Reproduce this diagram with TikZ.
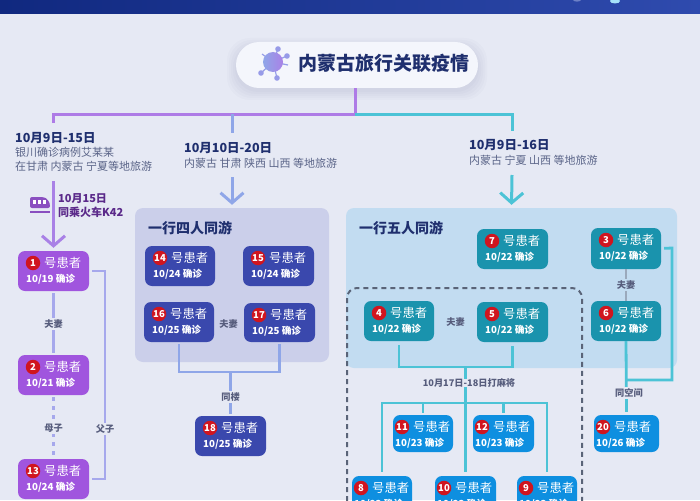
\documentclass[tikz,border=0pt]{standalone}
\usepackage{fontspec}
\setmainfont{Noto Sans CJK SC}
\usetikzlibrary{arrows.meta,calc}
\definecolor{pagebg}{HTML}{E6E9F4}
\definecolor{hdrL}{HTML}{10287F}
\definecolor{hdrR}{HTML}{2F4BAE}
\definecolor{pillc}{HTML}{F4F6FC}
\definecolor{navy}{HTML}{1F2F6E}
\definecolor{subc}{HTML}{5A6488}
\definecolor{relc}{HTML}{565C7C}
\definecolor{linep}{HTML}{AE7BE6}
\definecolor{lineb}{HTML}{8FA6E8}
\definecolor{linec}{HTML}{4CC3D6}
\definecolor{linev}{HTML}{A6A8EC}
\definecolor{lineg}{HTML}{9AA9BC}
\definecolor{gfour}{HTML}{CBCFEA}
\definecolor{gfive}{HTML}{C2DCF1}
\definecolor{npurple}{HTML}{A055DE}
\definecolor{ndark}{HTML}{3A48AD}
\definecolor{nteal}{HTML}{1A93AD}
\definecolor{nblue}{HTML}{0E8FE0}
\definecolor{badgec}{HTML}{D0151F}
\definecolor{trainc}{HTML}{8A4FC0}
\definecolor{trainText}{HTML}{5B2A8A}
\definecolor{dashc}{HTML}{5A6478}
\tikzset{
  x=1pt,y=-1pt,
  box/.style={rounded corners=7pt,inner sep=0pt,draw=none},
  txt/.style={inner sep=0pt,anchor=west,text=white},
  headtxt/.style={inner sep=0pt,anchor=west,text=navy,font=\fontsize{12.5}{14}\selectfont\bfseries},
  subtxt/.style={inner sep=0pt,anchor=west,text=subc,font=\fontsize{11}{13}\selectfont},
  grouptxt/.style={inner sep=0pt,anchor=west,text=navy,font=\fontsize{14}{16}\selectfont\bfseries},
  traintxt/.style={inner sep=0pt,anchor=west,text=trainText,font=\fontsize{11}{13}\selectfont\bfseries},
  rel/.style={inner sep=1.5pt,text=relc,font=\fontsize{9.2}{11}\selectfont\bfseries,fill=#1},
  rel/.default=pagebg,
  conn/.style={line width=2.8pt,color=#1},
  main/.style={line width=3pt,color=#1},
  arr/.style={line width=3pt,color=#1,-{Straight Barb[length=10pt,width=23pt,line width=3pt]}},
  badge/.style={circle,fill=badgec,inner sep=0pt,minimum size=14.5pt,text=white,font=\fontsize{9.5}{10}\selectfont\bfseries},
}
% id x1 y1 x2 y2 colour number date offset
\newcommand{\patient}[9]{%
  \node[box,fill=#6,minimum width={(#4-#2)*1pt},minimum height={(#5-#3)*1pt}] (#1) at ({(#2+#4)/2},{(#3+#5)/2}) {};
  \node[badge] (#1b) at ({#2+15+#9},{#3+12}) {#7};
  \node[txt,font=\fontsize{12.3}{13}\selectfont] (#1t) at ({#2+26+#9},{#3+12}) {号患者};
  \node[txt,font=\fontsize{9.7}{12}\selectfont\bfseries] (#1d) at ({#2+8+#9},{#3+28}) {#8};
}
\begin{document}
\begin{tikzpicture}
\useasboundingbox (0,0) rectangle (700,500);
\clip (0,0) rectangle (700,500);
\fill[pagebg] (0,0) rectangle (700,500);
% header band
\shade[left color=hdrL,right color=hdrR] (0,0) rectangle (700,14);
\fill[hdrR!70!white] (577,0) ellipse (4 and 1.6);
\fill[cyan!35!white] (615,1) ellipse (5 and 2.5);
% title pill
\foreach \s in {9,7,5,3,1}{
  \fill[navy,opacity=0.02,rounded corners=23pt] ({236-\s},{44-\s+3}) rectangle ({478+\s},{88+\s+3});
}
\node[fill=pillc,rounded corners=23pt,minimum width=242pt,minimum height=46pt,inner sep=0pt] (title) at (357,65) {};
\node[inner sep=0pt,anchor=west,text=navy,font=\fontsize{19}{21}\selectfont\bfseries] (titletext) at (298,63) {内蒙古旅行关联疫情};
% virus icon
\foreach \a/\b in {278/49,287/56,261/73,277/78,262/54,288/65}{
  \draw[line width=1.2pt,color=lineb!80!linep] (273,62) -- (\a,\b);
}
\foreach \a/\b in {278/49,287/56,261/73,277/78}{
  \fill[lineb!75!linep] (\a,\b) circle (2.8);
}
\shade[left color=lineb,right color=linep!85!lineb] (273,62) circle (10);
% hub
\coordinate (hub) at (355,114);
\coordinate (hubL) at (53.5,114);
\coordinate (hubM) at (232,114);
\coordinate (hubR) at (512,114);
\coordinate (stubL) at (53.5,123);
\coordinate (stubM) at (232,133);
\coordinate (stubR) at (512,131);
% groups
\node[box,fill=gfour,rounded corners=8pt,minimum width=194pt,minimum height=154pt] (gfourbox) at (232,285) {};
\node[box,fill=gfive,rounded corners=8pt,minimum width=331pt,minimum height=160pt] (gfivebox) at (511.5,288) {};
\node[grouptxt] (gfourtitle) at (148,228) {一行四人同游};
\node[grouptxt] (gfivetitle) at (359,228) {一行五人同游};
% dashed frame
\draw[line width=2pt,dashc,dash pattern=on 5pt off 4pt,rounded corners=10pt] (347,510) -- (347,288) -- (582,288) -- (582,510);
% patients
\patient{na}{18}{251}{89}{291}{npurple}{1}{10/19 确诊}{0}
\patient{nb}{18}{355}{89}{395}{npurple}{2}{10/21 确诊}{0}
\patient{nm}{18}{459}{89}{499}{npurple}{13}{10/24 确诊}{0}
\patient{nn}{145}{246}{215}{286}{ndark}{14}{10/24 确诊}{0}
\patient{no}{243}{246}{314}{286}{ndark}{15}{10/24 确诊}{0}
\patient{np}{144}{302}{214}{342}{ndark}{16}{10/25 确诊}{0}
\patient{nq}{244}{303}{315}{342}{ndark}{17}{10/25 确诊}{0}
\patient{nr}{195}{416}{266}{456}{ndark}{18}{10/25 确诊}{0}
\patient{ng}{477}{229}{548}{269}{nteal}{7}{10/22 确诊}{0}
\patient{nc}{591}{228}{661}{269}{nteal}{3}{10/22 确诊}{0}
\patient{nd}{364}{301}{434}{341}{nteal}{4}{10/22 确诊}{0}
\patient{ne}{477}{302}{548}{342}{nteal}{5}{10/22 确诊}{0}
\patient{nf}{591}{301}{661}{341}{nteal}{6}{10/22 确诊}{0}
\patient{nk}{393}{415}{453}{452}{nblue}{11}{10/23 确诊}{-6}
\patient{nl}{473}{415}{534}{452}{nblue}{12}{10/23 确诊}{-6}
\patient{nt}{594}{415}{659}{452}{nblue}{20}{10/26 确诊}{-6}
\patient{nh}{352}{476}{412}{513}{nblue}{8}{10/23 确诊}{-6}
\patient{nj}{435}{476}{496}{513}{nblue}{10}{10/23 确诊}{-6}
\patient{ni}{517}{476}{577}{513}{nblue}{9}{10/23 确诊}{-6}
% top tree
\draw[main=linep] (hub |- title.south) -- (hub);
\draw[main=linec] (hub) -- (hubR) -- (stubR);
\draw[main=linep] (stubL) -- (hubL) -- (hub);
\draw[main=lineb] (hubM) -- (stubM);
% texts under tree
\node[headtxt] (hla) at (15,138) {10月9日-15日};
\node[subtxt] (hlb) at (15,152) {银川确诊病例艾某某};
\node[subtxt] (hlc) at (15,166) {在甘肃 内蒙古 宁夏等地旅游};
\node[headtxt] (hma) at (184,148) {10月10日-20日};
\node[subtxt] (hmb) at (184,163) {内蒙古 甘肃 陕西 山西 等地旅游};
\node[headtxt] (hra) at (469,145) {10月9日-16日};
\node[subtxt] (hrb) at (469,160) {内蒙古 宁夏 山西 等地旅游};
\node[traintxt] (tra) at (58,199) {10月15日};
\node[traintxt] (trb) at (58,212) {同乘火车K42};
% arrows
\coordinate (arrL) at (53.5,181);
\coordinate (arrM) at (232,177);
\coordinate (arrR) at (512,175);
\draw[arr=linep!85!lineb,shorten >=3pt] (arrL) -- (na.north);
\draw[arr=lineb,shorten >=3pt] (arrM) -- (gfourbox.north);
\draw[arr=linec,shorten >=3pt] (arrR) -- (gfivebox.north);
% train icon
\fill[trainc,rounded corners=2pt] (30,197) -- (42,197) .. controls (47,198) and (50,202) .. (50,208) -- (30,208) -- cycle;
\fill[white] (33,200) rectangle (36,204);
\fill[white] (38,200) rectangle (41,204);
\fill[white] (43,200) rectangle (46,204);
\fill[trainc] (30,211) rectangle (50,213);
% purple family
\draw[conn=linev,shorten <=2pt,shorten >=2pt] (na.south) -- (nb.north);
\node[rel] (lab1) at (53.5,324) {夫妻};
\draw[conn=linev,dash pattern=on 4pt off 5pt,shorten <=2pt,shorten >=2pt] (nb.south) -- (nm.north);
\node[rel] (lab2) at (53.5,428) {母子};
\coordinate (rail) at (105,271);
\draw[conn=linev,shorten <=3pt,shorten >=3pt] (na.east) -- (rail) |- (nm.east);
\node[rel] (lab3) at (105,429) {父子};
% group four
\node[rel=gfour,fill=none] (lab4) at (228.5,324) {夫妻};
\coordinate (bar4) at (230.5,372);
\draw[conn=lineb,shorten <=2pt,shorten >=2pt] (np.south) |- (bar4) -| (nq.south);
\draw[conn=lineb,shorten >=2pt] (bar4) -- (nr.north);
\node[rel] (lab5) at (230.5,397) {同楼};
% group five
\node[rel=gfive,fill=none] (lab6) at (455.5,322) {夫妻};
\coordinate (bar5) at (465.5,367);
\coordinate (bar6) at (465.5,403);
\draw[conn=linec,shorten <=4pt,shorten >=4pt] (nd.south) |- (bar5) -| (ne.south);
\draw[conn=linec,shorten >=4pt] (bar5) -- (nj.north);
\draw[conn=linec,shorten <=4pt,shorten >=4pt] (nh.north) |- (bar6) -| (ni.north);
\draw[conn=linec,shorten >=2pt] (bar6 -| nk.north) -- (nk.north);
\draw[conn=linec,shorten >=2pt] (bar6 -| nl.north) -- (nl.north);
\node[rel,inner ysep=0pt] (lab7) at (469,383) {10月17日-18日打麻将};
% 3, 6, 20
\draw[conn=lineg] (nc.south) -- (nf.north);
\node[rel=gfive] (lab8) at (626,285) {夫妻};
\coordinate (rail2) at (672,248);
\coordinate (bar7) at (626,380);
\draw[conn=linec,shorten <=3pt] (nc.east) -- (rail2) |- (bar7);
\draw[conn=linec,shorten >=3pt] (nf.south) -- (nt.north);
\node[rel] (lab9) at (629,393) {同空间};
\end{tikzpicture}
\end{document}
